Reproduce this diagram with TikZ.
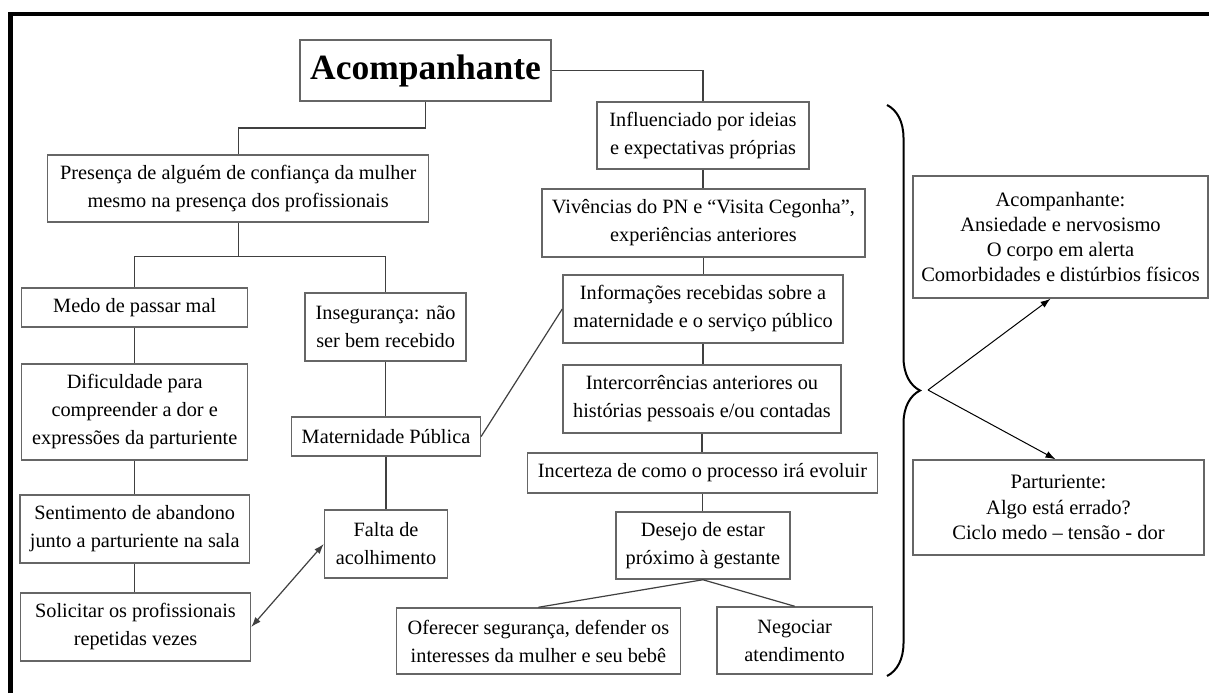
\documentclass[tikz,border=0pt]{standalone}
\usepackage{fontspec}
\setmainfont{Liberation Serif}
\usepackage{tikz}
\usetikzlibrary{arrows.meta, positioning, calc, decorations.pathreplacing}

\tikzset{
  box/.style={draw=black!60, line width=1.5pt, align=center, inner sep=0pt,
    font=\fontsize{20.3}{28}\selectfont},
  sidebox/.style={draw=black!60, line width=1.5pt, align=center, inner sep=0pt,
    font=\fontsize{20.5}{25.3}\selectfont},
  link/.style={draw=black!75, line width=1.2pt},
}

\begin{document}
\begin{tikzpicture}[x=1pt, y=-1pt, >={Latex[length=10pt,width=7pt]}]
    % Page and frame
    \fill[white] (0,0) rectangle (1209,693);
    \useasboundingbox (0,0) rectangle (1209,693);
    \draw[line width=4.5pt] (10.5,693) -- (10.5,14) -- (1209,14);

    % Main box
    \node[box, minimum width=251pt, minimum height=61pt,
      font=\bfseries\fontsize{35.5}{40}\selectfont] (title) at (425.5,70.5) {Acompanhante};

    % Left branch
    \node[box, minimum width=381pt, minimum height=67pt] (presenca) at (238.2,188.5)
      {Presença de alguém de confiança da mulher\\mesmo na presença dos profissionais};
    \node[box, minimum width=226pt, minimum height=39pt] (medo) at (134.7,307.5) {Medo de passar mal};
    \node[box, minimum width=226pt, minimum height=96pt] (dificuldade) at (134.7,412)
      {Dificuldade para\\compreender a dor e\\expressões da parturiente};
    \node[box, minimum width=229.6pt, minimum height=68pt] (sentimento) at (134.7,529)
      {Sentimento de abandono\\junto a parturiente na sala};
    \node[box, minimum width=230pt, minimum height=68pt] (solicitar) at (135.5,627)
      {Solicitar os profissionais\\repetidas vezes};
    \node[box, minimum width=161pt, minimum height=68pt] (inseguranca) at (385.6,327)
      {Insegurança: não\\ser bem recebido};
    \node[box, minimum width=188.7pt, minimum height=39pt] (maternidade) at (386,436.5) {Maternidade Pública};
    \node[box, minimum width=123pt, minimum height=68pt] (falta) at (386,544) {Falta de\\acolhimento};

    % Middle branch
    \node[box, minimum width=212pt, minimum height=67pt] (influenciado) at (703,135.5)
      {Influenciado por ideias\\e expectativas próprias};
    \node[box, minimum width=323pt, minimum height=68pt] (vivencias) at (703.5,223)
      {Vivências do PN e “Visita Cegonha”,\\experiências anteriores};
    \node[box, minimum width=280pt, minimum height=68pt] (informacoes) at (703,309)
      {Informações recebidas sobre a\\maternidade e o serviço público};
    \node[box, minimum width=278pt, minimum height=68pt] (intercorrencias) at (702,399)
      {Intercorrências anteriores ou\\histórias pessoais e/ou contadas};
    \node[box, minimum width=350pt, minimum height=40pt] (incerteza) at (702.5,473)
      {Incerteza de como o processo irá evoluir};
    \node[box, minimum width=174pt, minimum height=67pt] (desejo) at (702.9,545.5)
      {Desejo de estar\\próximo à gestante};
    \node[box, minimum width=284pt, minimum height=66pt] (oferecer) at (538.4,641)
      {Oferecer segurança, defender os\\interesses da mulher e seu bebê};
    \node[box, minimum width=155.6pt, minimum height=67pt] (negociar) at (794.6,640.5)
      {Negociar\\atendimento};

    % Right side
    \node[sidebox, minimum width=295pt, minimum height=122pt] (sideA) at (1060.5,237)
      {Acompanhante:\\Ansiedade e nervosismo\\O corpo em alerta\\Comorbidades e distúrbios físicos};
    \node[sidebox, minimum width=291pt, minimum height=95pt] (sideB) at (1058.5,507.5)
      {Parturiente:\\Algo está errado?\\Ciclo medo – tensão - dor};

    % Connectors, left
    \coordinate (j1) at ($(title.south)!0.5!(title.south |- presenca.north)$);
    \draw[link] (title.south) -- (j1) -| (presenca.north);
    \coordinate (j2) at ($(presenca.south)+(0,34)$);
    \draw[link] (presenca.south) -- (j2);
    \draw[link] (medo.north) |- (j2) -| (inseguranca.north);
    \draw[link] (medo.south) -- (medo.south |- dificuldade.north);
    \draw[link] (dificuldade.south) -- (dificuldade.south |- sentimento.north);
    \draw[link] (sentimento.south) -- (sentimento.south |- solicitar.north);
    \draw[link] (inseguranca.south) -- (inseguranca.south |- maternidade.north);
    \draw[link] (maternidade.south) -- (maternidade.south |- falta.north);
    \draw[link, <->] (solicitar.east) -- (falta.west);
    \draw[link] (maternidade.east) -- (informacoes.west);

    % Connectors, middle
    \draw[link] (title.east) -| (influenciado.north);
    \draw[link] (influenciado.south) -- (influenciado.south |- vivencias.north);
    \draw[link] (vivencias.south) -- (vivencias.south |- informacoes.north);
    \draw[link] (informacoes.south) -- (informacoes.south |- intercorrencias.north);
    \draw[link] (intercorrencias.south) -- (intercorrencias.south |- incerteza.north);
    \draw[link] (incerteza.south) -- (incerteza.south |- desejo.north);
    \draw[link] (desejo.south) -- (oferecer.north);
    \draw[link] (desejo.south) -- (negociar.north);

    % Brace and arrows
    \draw[line width=2pt, decorate, decoration={brace, amplitude=33pt}] (887,105) -- (887,676);
    \coordinate (tip) at (928,390);
    \draw[line width=1pt, ->] (tip) -- ([xshift=-10pt]sideA.south);
    \draw[line width=1pt, ->] (tip) -- ([xshift=-3pt]sideB.north);
\end{tikzpicture}
\end{document}
